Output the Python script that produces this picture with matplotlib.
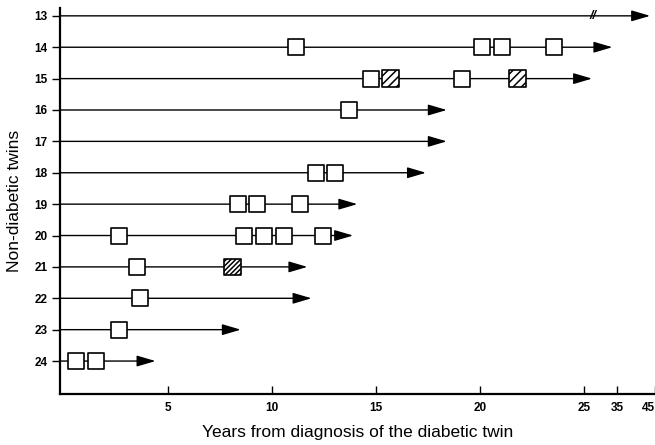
import numpy as np
import matplotlib
matplotlib.use("Agg")
import matplotlib.pyplot as plt
from matplotlib.transforms import ScaledTranslation

plt.rcParams['font.family'] = ['Liberation Sans', 'DejaVu Sans']
plt.rcParams['hatch.linewidth'] = 1.1

# ---- data (years from diagnosis of the diabetic twin) ----
twins = [13, 14, 15, 16, 17, 18, 19, 20, 21, 22, 23, 24]
follow_up = [43.7, 33.5, 27.4, 18.4, 18.4, 17.4, 14.1, 13.9, 11.7, 11.9, 8.5, 4.4]
open_squares = [
    [],
    [11.15, 20.1, 21.05, 23.55],
    [14.75, 19.15],
    [13.7],
    [],
    [12.1, 13.05],
    [8.35, 9.3, 11.35],
    [2.65, 8.65, 9.6, 10.6, 12.45],
    [3.5],
    [3.65],
    [2.65],
    [0.6, 1.55],
]
hatched_light = [[], [], [15.7, 21.8], [], [], [], [], [], [], [], [], []]
hatched_dense = [[], [], [], [], [], [], [], [], [8.1], [], [], []]
break_row = 13
break_year = 27.7
xticks = [5, 10, 15, 20, 25, 35, 45]

# piecewise scale: linear to 25 years, compressed beyond
_x = np.array([-100.0, 25.0, 35.0, 45.0, 1000.0])
_d = np.array([-100.0, 25.0, 26.6, 28.41, 28.41 + 955 * 0.18])
def fwd(v):
    return np.interp(v, _x, _d)
def inv(v):
    return np.interp(v, _d, _x)

W, H = 655, 445
fig = plt.figure(figsize=(W / 100, H / 100), dpi=100)
ax = fig.add_axes([60 / W, (H - 394) / H, 595 / W, (394 - 8) / H])
ax.set_xscale('function', functions=(fwd, inv))
ax.set_xlim(-0.19, 45)
ax.set_ylim(25.05, 12.75)

x0 = ax.get_xlim()[0]
for tw, fu in zip(twins, follow_up):
    ax.annotate('', xy=(fu, tw), xytext=(x0, tw),
                arrowprops=dict(arrowstyle='-|>,head_length=0.95,head_width=0.28',
                                mutation_scale=12, lw=1.0, color='black',
                                shrinkA=0, shrinkB=0), zorder=2)

sq = 12.0 ** 2
for tw, xs in zip(twins, open_squares):
    if xs:
        ax.scatter(xs, [tw] * len(xs), marker='s', s=sq, facecolor='white',
                   edgecolor='black', linewidths=1.2, zorder=3)
for tw, xs in zip(twins, hatched_light):
    if xs:
        ax.scatter(xs, [tw] * len(xs), marker='s', s=sq, facecolor='white',
                   edgecolor='black', linewidths=1.2, hatch='////', zorder=3)
for tw, xs in zip(twins, hatched_dense):
    if xs:
        ax.scatter(xs, [tw] * len(xs), marker='s', s=sq, facecolor='white',
                   edgecolor='black', linewidths=1.2, hatch='///////', zorder=3)

ax.text(break_year, break_row, '//', ha='center', va='center', fontsize=9,
        style='italic', fontweight='bold', zorder=4)

for s in ['top', 'right']:
    ax.spines[s].set_visible(False)
for s in ['left', 'bottom']:
    ax.spines[s].set_linewidth(1.6)

ax.set_yticks(twins)
ax.set_yticklabels([str(t) for t in twins], fontsize=8.5, fontweight='bold')
ax.tick_params(axis='y', direction='out', length=6, width=1.0, pad=3)
ax.set_xticks(xticks)
ax.set_xticklabels([str(t) for t in xticks], fontsize=8.5, fontweight='bold')
ax.tick_params(axis='x', direction='in', length=6, width=1.0, pad=6)
ax.minorticks_off()

# nudge the last (edge) x label slightly left so it is less clipped
last = ax.get_xticklabels()[-1]
last.set_transform(last.get_transform() + ScaledTranslation(-5 / 72, 0, fig.dpi_scale_trans))

ax.set_xlabel('Years from diagnosis of the diabetic twin', fontsize=12.5, labelpad=8)
ax.set_ylabel('Non-diabetic twins', fontsize=12.5, labelpad=9)

fig.savefig('out.png', dpi=100)
